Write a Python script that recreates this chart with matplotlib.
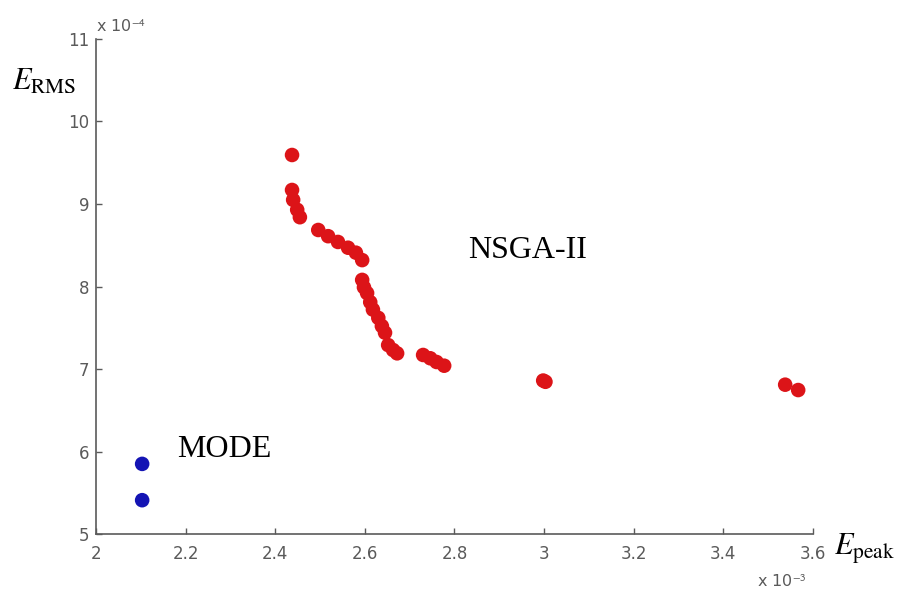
#!/usr/bin/env python3
import matplotlib
matplotlib.use('Agg')
import matplotlib.pyplot as plt

# Pareto fronts, E_peak in units of 1e-3, E_RMS in units of 1e-4
nsga_peak = [2.4375, 2.4375, 2.44, 2.449, 2.455,
             2.496, 2.518, 2.540, 2.5625, 2.58, 2.594,
             2.594, 2.598, 2.605, 2.612, 2.618, 2.63, 2.638, 2.645, 2.652, 2.663, 2.672,
             2.73, 2.746, 2.76, 2.777,
             2.998, 3.003,
             3.538, 3.567]
nsga_rms = [9.594, 9.17, 9.05, 8.93, 8.84,
            8.685, 8.61, 8.54, 8.47, 8.41, 8.32,
            8.08, 7.99, 7.92, 7.81, 7.72, 7.62, 7.52, 7.44, 7.29, 7.23, 7.19,
            7.17, 7.13, 7.085, 7.04,
            6.86, 6.845,
            6.81, 6.745]

mode_peak = [2.103, 2.103]
mode_rms = [5.85, 5.41]

xticks = [2, 2.2, 2.4, 2.6, 2.8, 3, 3.2, 3.4, 3.6]
xticklabels = ['2', '2.2', '2.4', '2.6', '2.8', '3', '3.2', '3.4', '3.6']
yticks = [5, 6, 7, 8, 9, 10, 11]
yticklabels = ['5', '6', '7', '8', '9', '10', '11']


def main():
    plt.rcParams['mathtext.fontset'] = 'stix'
    grey = '#5a5a5a'

    fig = plt.figure(figsize=(8.98, 5.98), dpi=100)
    ax = fig.add_axes([0.1069, 0.107, 0.7984, 0.8278])

    ax.scatter(nsga_peak, nsga_rms, s=110, color='#dc1418', edgecolors='none', zorder=3)
    ax.scatter(mode_peak, mode_rms, s=110, color='#1414b4', edgecolors='none', zorder=3)

    ax.set_xlim(2, 3.6)
    ax.set_ylim(5, 11)
    ax.set_xticks(xticks)
    ax.set_xticklabels(xticklabels)
    ax.set_yticks(yticks)
    ax.set_yticklabels(yticklabels)

    for side in ['top', 'right']:
        ax.spines[side].set_visible(False)
    for side in ['left', 'bottom']:
        ax.spines[side].set_color(grey)
        ax.spines[side].set_linewidth(1.2)

    ax.tick_params(axis='both', direction='in', length=4, width=1, color=grey,
                   labelcolor=grey, labelsize=12)
    ax.tick_params(axis='x', pad=8)
    ax.tick_params(axis='y', pad=5)
    for lab in ax.get_xticklabels() + ax.get_yticklabels():
        lab.set_family('DejaVu Sans')

    # exponent markers at the axis ends
    ax.text(0.0, 1.008, r'x 10$^{\mathsf{-4}}$', transform=ax.transAxes,
            fontsize=11.5, color=grey, ha='left', va='bottom', family='DejaVu Sans')
    ax.text(0.922, -0.08, r'x 10$^{\mathsf{-3}}$', transform=ax.transAxes,
            fontsize=11.5, color=grey, ha='left', va='top', family='DejaVu Sans')

    # axis names
    fig.text(0.013, 0.85, r'$E_{\mathrm{RMS}}$', fontsize=22, color='black',
             ha='left', va='baseline')
    fig.text(0.929, 0.072, r'$E_{\mathrm{peak}}$', fontsize=22, color='black',
             ha='left', va='baseline')

    # method labels
    ax.text(2.83, 8.345, 'NSGA-II', fontsize=23, family='Liberation Serif',
            color='black', ha='left', va='baseline')
    ax.text(2.181, 5.93, 'MODE', fontsize=23, family='Liberation Serif',
            color='black', ha='left', va='baseline')

    fig.savefig('out.png', dpi=100)


if __name__ == "__main__":
    main()
